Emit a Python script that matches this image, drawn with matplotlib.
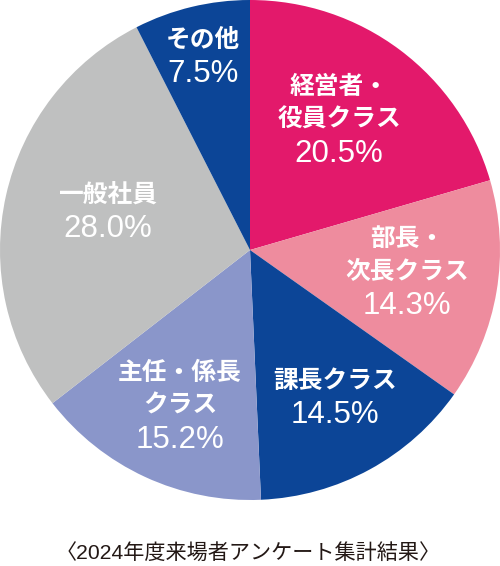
import matplotlib
matplotlib.use("Agg")
import matplotlib.pyplot as plt

# ---- data ----
categories = ["経営者・\n役員クラス", "部長・\n次長クラス", "課長クラス",
              "主任・係長\nクラス", "一般社員", "その他"]
values = [20.5, 14.3, 14.5, 15.2, 28.0, 7.5]
colors = ["#E3196B", "#EE8C9E", "#0C4597", "#8A96CA", "#BFC0C0", "#0C4597"]
caption = "〈2024年度来場者アンケート集計結果〉"

# ---- layout (label block centers in pie data units) ----
label_pos = [(0.356, 0.52), (0.628, -0.088), (0.34, -0.592),
             (-0.28, -0.624), (-0.568, 0.152), (-0.188, 0.772)]
line_step = 0.134

fig = plt.figure(figsize=(5.0, 5.66), dpi=100)
ax = fig.add_axes([0, 66 / 566, 1, 500 / 566])
ax.pie(values, colors=colors, startangle=90, counterclock=False,
       radius=1.0, wedgeprops=dict(linewidth=0))
ax.set_xlim(-1, 1)
ax.set_ylim(-1, 1)
ax.set_aspect("equal")
ax.axis("off")

for cat, val, (cx, cy) in zip(categories, values, label_pos):
    lines = cat.split("\n")
    n = len(lines) + 1
    top = cy + line_step * (n - 1) / 2
    for i, ln in enumerate(lines):
        ax.text(cx, top - i * line_step, ln, ha="center", va="center",
                color="white", fontsize=17.8, fontweight="bold",
                family=["Noto Sans CJK JP", "DejaVu Sans"])
    ax.text(cx, top - (n - 1) * line_step, f"{val:.1f}%", ha="center",
            va="center", color="white", fontsize=22.5,
            family=["Liberation Sans", "DejaVu Sans"])

fig.text(0.496, 1 - 553 / 566, caption, ha="center", va="center",
         fontsize=15.2, color="#231815",
         family=["Liberation Sans", "Noto Sans CJK JP", "DejaVu Sans"])

fig.savefig("out.png", dpi=100)
